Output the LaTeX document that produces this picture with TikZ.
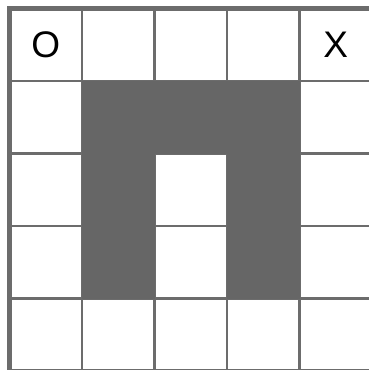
\documentclass[tikz,border=0pt]{standalone}
\usepackage{fontspec}
\setmainfont{Liberation Sans}
\definecolor{cellgray}{HTML}{666666}
\definecolor{linegray}{HTML}{6C6C6C}
\tikzset{gridline/.style={linegray, line width=2.2pt}, mark text/.style={font=\fontsize{37}{40}\selectfont}}
\begin{document}
\begin{tikzpicture}[x=1pt, y=-1pt]
	\useasboundingbox (0,0) rectangle (369,370);
	\fill[white] (0,0) rectangle (369,370);
	\begin{scope}
	\clip (0,0) rectangle (369,370);
	\foreach \i in {1,...,4} {
		\draw[gridline] ({9.5+72.5*\i},8.5) -- ({9.5+72.5*\i},371);
		\draw[gridline] (9.5,{8.5+72.5*\i}) -- (372,{8.5+72.5*\i});
	}
	\fill[cellgray] (82,81) rectangle (299.5,153.5);
	\fill[cellgray] (82,153.5) rectangle (154.5,298.5);
	\fill[cellgray] (227,153.5) rectangle (299.5,298.5);
	\draw[linegray, line width=5pt] (9.5,8.5) rectangle (372,371);
	\end{scope}
	\node[mark text] (start) at (45.75,45) {O};
	\node[mark text] (goal) at (335.75,45) {X};
\end{tikzpicture}
\end{document}
